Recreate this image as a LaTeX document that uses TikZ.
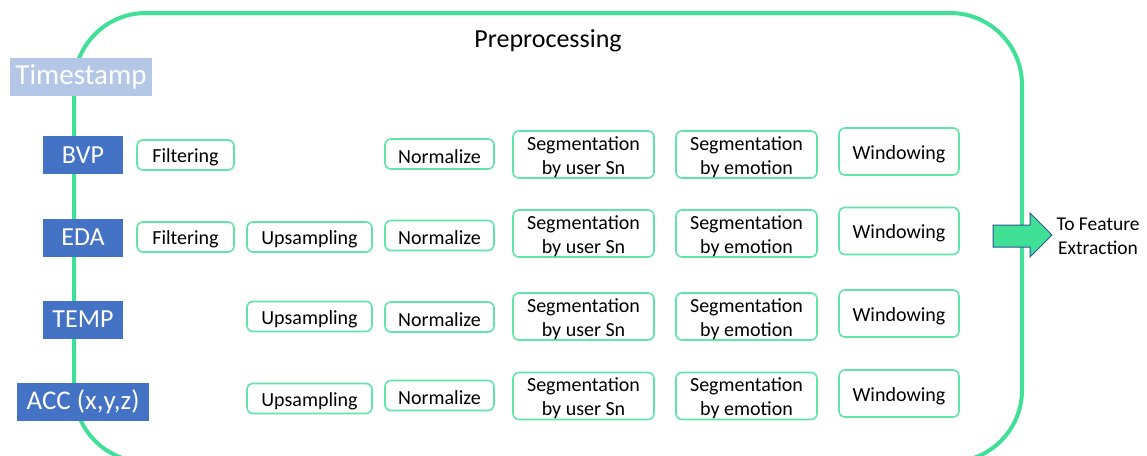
\documentclass[tikz,border=0pt]{standalone}
\usepackage{fontspec}
\setmainfont{Carlito}
\definecolor{frameg}{RGB}{64,224,150}
\definecolor{boxg}{RGB}{96,228,168}
\definecolor{sigblue}{RGB}{68,114,196}
\definecolor{tsblue}{RGB}{180,199,231}
\definecolor{arrowedge}{RGB}{47,85,151}
\tikzset{
  sensor/.style={fill=sigblue, text=white, inner sep=0pt, minimum height=38pt,
    font=\fontsize{26}{28}\selectfont},
  stagetext/.style={inner sep=0pt, align=center, yshift=-2.5pt,
    font=\fontsize{20}{24}\selectfont},
  stage/.style={draw=boxg, line width=1.6pt, fill=white, rounded corners=6pt,
    inner sep=0pt, label={[stagetext]center:{#1}}},
  onel/.style={stage={#1}, minimum height=30pt},
  twol/.style={stage={#1}, minimum height=47pt},
}
\begin{document}
\begin{tikzpicture}[x=1pt,y=-1pt]
\useasboundingbox (0,0) rectangle (1147,455);
% preprocessing frame
\draw[frameg, line width=4pt, rounded corners=72pt] (74,13) rectangle (1022,462);
\node[anchor=base, font=\fontsize{26}{30}\selectfont] (title) at (548,47) {Preprocessing};

% signal sources on the left edge
\node[fill=tsblue, text=white, inner sep=0pt, minimum width=142pt, minimum height=38pt,
  font=\fontsize{29}{32}\selectfont] (ts) at (81,77) {Timestamp};
\node[sensor, minimum width=80pt] (bvp) at (83,155) {BVP};
\node[sensor, minimum width=80pt] (eda) at (83,237.5) {EDA};
\node[sensor, minimum width=80pt] (temp) at (83,319.5) {TEMP};
\node[sensor, minimum width=132pt, font=\fontsize{27}{29}\selectfont] (acc) at (83,401.5) {ACC (x,y,z)};

% BVP row
\node[onel={Filtering}, minimum width=97pt] (bvpf) at (185.5,155) {};
\node[onel={Normalize}, minimum width=109pt] (bvpn) at (439.5,154) {};
\node[twol={Segmentation\\by user Sn}, minimum width=141pt] (bvpu) at (583.5,154.5) {};
\node[twol={Segmentation\\by emotion}, minimum width=141pt] (bvpe) at (746.5,154.5) {};
\node[twol={Windowing}, minimum width=120pt] (bvpw) at (899,151.5) {};

% EDA row
\node[onel={Filtering}, minimum width=97pt] (edaf) at (185.5,237) {};
\node[onel={Upsampling}, minimum width=125pt] (edas) at (309.5,237) {};
\node[onel={Normalize}, minimum width=109pt] (edan) at (439.5,235.5) {};
\node[twol={Segmentation\\by user Sn}, minimum width=141pt] (edau) at (583.5,233.5) {};
\node[twol={Segmentation\\by emotion}, minimum width=141pt] (edae) at (746.5,233.5) {};
\node[twol={Windowing}, minimum width=120pt] (edaw) at (899,231) {};

% TEMP row
\node[onel={Upsampling}, minimum width=125pt] (temps) at (309.5,316.5) {};
\node[onel={Normalize}, minimum width=109pt] (tempn) at (439.5,317) {};
\node[twol={Segmentation\\by user Sn}, minimum width=141pt] (tempu) at (583.5,316.5) {};
\node[twol={Segmentation\\by emotion}, minimum width=141pt] (tempe) at (746.5,316.5) {};
\node[twol={Windowing}, minimum width=120pt] (tempw) at (899,313.5) {};

% ACC row
\node[onel={Upsampling}, minimum width=125pt] (accs) at (309.5,398.5) {};
\node[onel={Normalize}, minimum width=109pt] (accn) at (439.5,395.5) {};
\node[twol={Segmentation\\by user Sn}, minimum width=141pt] (accu) at (583.5,396) {};
\node[twol={Segmentation\\by emotion}, minimum width=141pt] (acce) at (746.5,396) {};
\node[twol={Windowing}, minimum width=120pt] (accw) at (899,393.5) {};

% output arrow
\draw[fill=frameg, draw=arrowedge, line width=1pt, line join=miter]
  (993,225) -- (1030,225) -- (1030,213) -- (1052,235) -- (1030,257)
  -- (1030,247) -- (993,247) -- cycle;
\node[align=center, inner sep=0pt, font=\fontsize{19.5}{24}\selectfont] (out) at (1098,236)
  {To Feature\\Extraction};
\end{tikzpicture}
\end{document}
